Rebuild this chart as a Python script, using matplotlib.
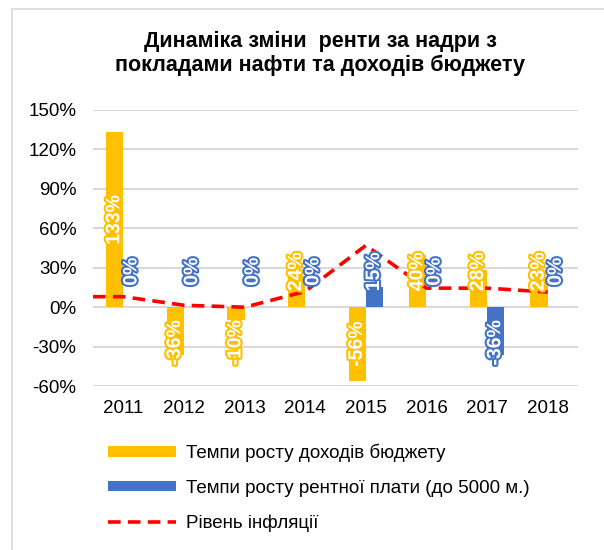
import matplotlib
matplotlib.use("Agg")
import matplotlib.pyplot as plt
import matplotlib.patheffects as pe
from matplotlib.patches import Rectangle
import numpy as np

plt.rcParams["font.family"] = ["Liberation Sans", "DejaVu Sans"]

# дані з діаграми
years = ["2011", "2012", "2013", "2014", "2015", "2016", "2017", "2018"]
budget_growth = [133, -36, -10, 24, -56, 40, 28, 23]
rent_growth = [0, 0, 0, 0, 15, 0, -36, 0]
inflation = [8, 1.5, 0, 12, 47, 14.5, 14.5, 11.5]
yticks = [-60, -30, 0, 30, 60, 90, 120, 150]

yellow = "#FFC000"
blue = "#4472C4"

fig = plt.figure(figsize=(6.04, 5.5), dpi=100)
ax = fig.add_axes([0.154, 0.298, 0.803, 0.502])

x = np.arange(len(years))
w = 0.285
b1 = ax.bar(x - w / 2, budget_growth, w, color=yellow, zorder=2)
b2 = ax.bar(x + w / 2, rent_growth, w, color=blue, zorder=2)

xlim = (-0.5, len(years) - 0.5)
ln, = ax.plot([xlim[0]] + list(x), [inflation[0]] + inflation, color="#FF0000",
              lw=2.6, dashes=(3.5, 2), zorder=4)

# підписи значень
def put_labels(xs, vals, col):
    for xi, v in zip(xs, vals):
        if v >= 0:
            yc = max(v / 2, 27)
        else:
            yc = min(v / 2, -27)
        ax.text(xi, yc, f"{v}%", rotation=90, ha="center", va="center",
                color="white", fontsize=14, fontweight="bold", zorder=5,
                path_effects=[pe.withStroke(linewidth=3, foreground=col)])

put_labels(x - w / 2, budget_growth, yellow)
put_labels(x + w / 2, rent_growth, blue)

ax.set_xlim(*xlim)
ax.set_ylim(-60, 150)
ax.set_yticks(yticks)
ax.set_yticklabels([f"{t}%" for t in yticks])
ax.set_xticks(x)
ax.set_xticklabels(years)
ax.tick_params(length=0, labelsize=13.5, pad=12)
ax.tick_params(axis="x", pad=10)
ax.grid(axis="y", color="#D9D9D9", lw=1.5, zorder=0)
for s in ax.spines.values():
    s.set_visible(False)

fig.text(0.53, 0.903, "Динаміка зміни  ренти за надри з\nпокладами нафти та доходів бюджету",
         ha="center", va="center", fontsize=15.5, fontweight="bold", linespacing=1.15)

fig.legend([b1, b2, ln],
           ["Темпи росту доходів бюджету",
            "Темпи росту рентної плати (до 5000 м.)",
            "Рівень інфляції"],
           loc="center left", bbox_to_anchor=(0.164, 0.113), frameon=False,
           fontsize=13.5, handlelength=3.6, handleheight=0.5, labelspacing=0.95,
           handletextpad=0.55, borderpad=0)

fig.patches.append(Rectangle((0.02, -0.1), 1.2, 0.1 + 0.9836, transform=fig.transFigure,
                             fill=False, edgecolor="#D9D9D9", lw=1.2))

fig.savefig("out.png", dpi=100, facecolor="white")
